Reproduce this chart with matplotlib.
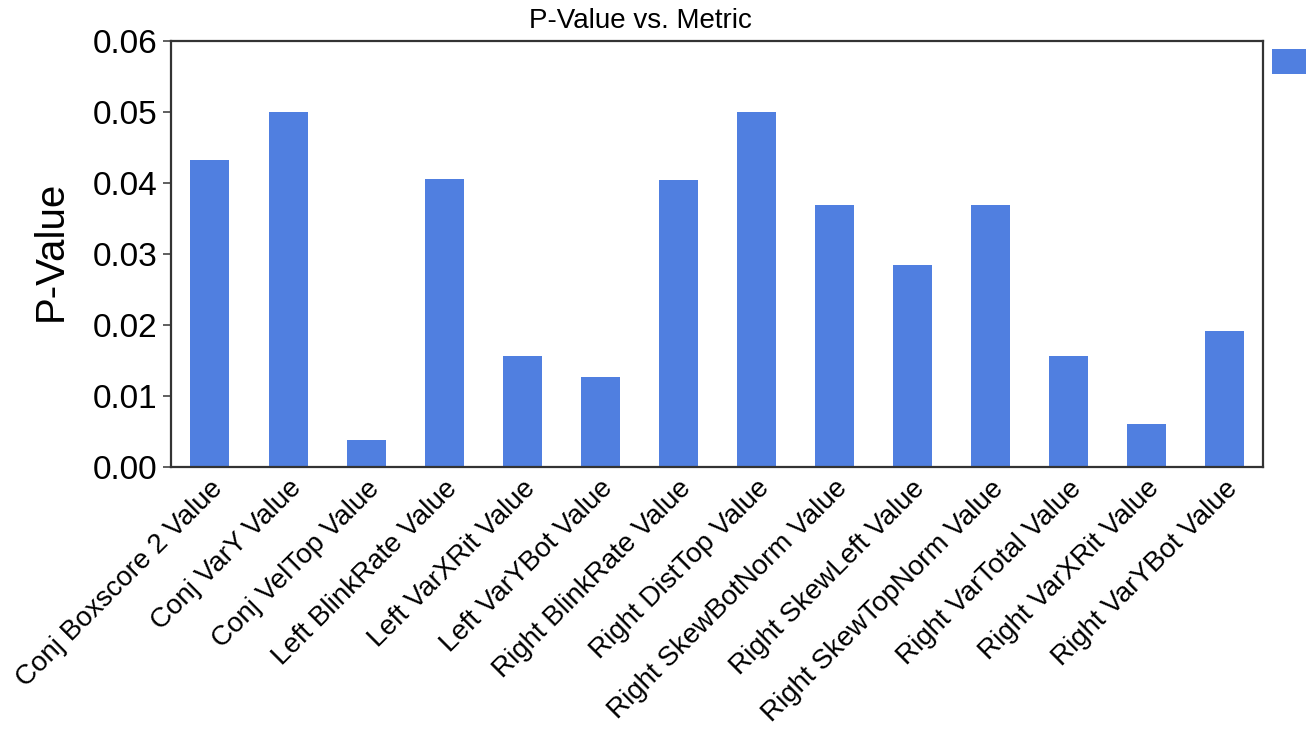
import matplotlib
matplotlib.use("Agg")
import matplotlib.pyplot as plt

plt.rcParams['font.family'] = ['Liberation Sans', 'DejaVu Sans']

metrics = [
    "Conj Boxscore 2 Value", "Conj VarY Value", "Conj VelTop Value",
    "Left BlinkRate Value", "Left VarXRit Value", "Left VarYBot Value",
    "Right BlinkRate Value", "Right DistTop Value", "Right SkewBotNorm Value",
    "Right SkewLeft Value", "Right SkewTopNorm Value", "Right VarTotal Value",
    "Right VarXRit Value", "Right VarYBot Value",
]
p_values = [0.0432, 0.0500, 0.0038, 0.0405, 0.0156, 0.0127, 0.0404,
            0.0500, 0.0369, 0.0285, 0.0369, 0.0156, 0.0061, 0.0192]
yticks = [0.00, 0.01, 0.02, 0.03, 0.04, 0.05, 0.06]

bar_color = "#507fe0"

fig = plt.figure(figsize=(13.06, 7.32), dpi=100)
ax = fig.add_axes([171/1306, 1 - 467/732, (1263-171)/1306, (467-41)/732])

x = list(range(len(metrics)))
ax.bar(x, p_values, width=0.5, color=bar_color, label=" ")
ax.set_xlim(-0.5, len(metrics) - 0.5)
ax.set_ylim(0, 0.06)
ax.set_yticks(yticks)
ax.set_yticklabels([f"{v:.2f}" for v in yticks], fontsize=24)
ax.set_xticks(x)
ax.set_xticklabels(metrics, rotation=45, ha='right', rotation_mode='anchor', fontsize=20)
ax.tick_params(axis='x', length=0, pad=6)
ax.tick_params(axis='y', length=6, width=1.2, color='#444444', pad=4)
for s in ax.spines.values():
    s.set_color('#333333')
    s.set_linewidth(1.6)

ax.set_ylabel("P-Value", fontsize=29)
ax.yaxis.set_label_coords(-0.093, 0.508)
fig.text(640/1306, 1 - 21/732, "P-Value vs. Metric", fontsize=20,
         ha='center', va='center')

ax.legend(loc='upper left', bbox_to_anchor=(1272/1306, 1 - 49/732),
          bbox_transform=fig.transFigure, frameon=False, borderpad=0,
          borderaxespad=0, handleheight=1.1, handlelength=1.8, fontsize=19)

fig.savefig("out.png", dpi=100)
